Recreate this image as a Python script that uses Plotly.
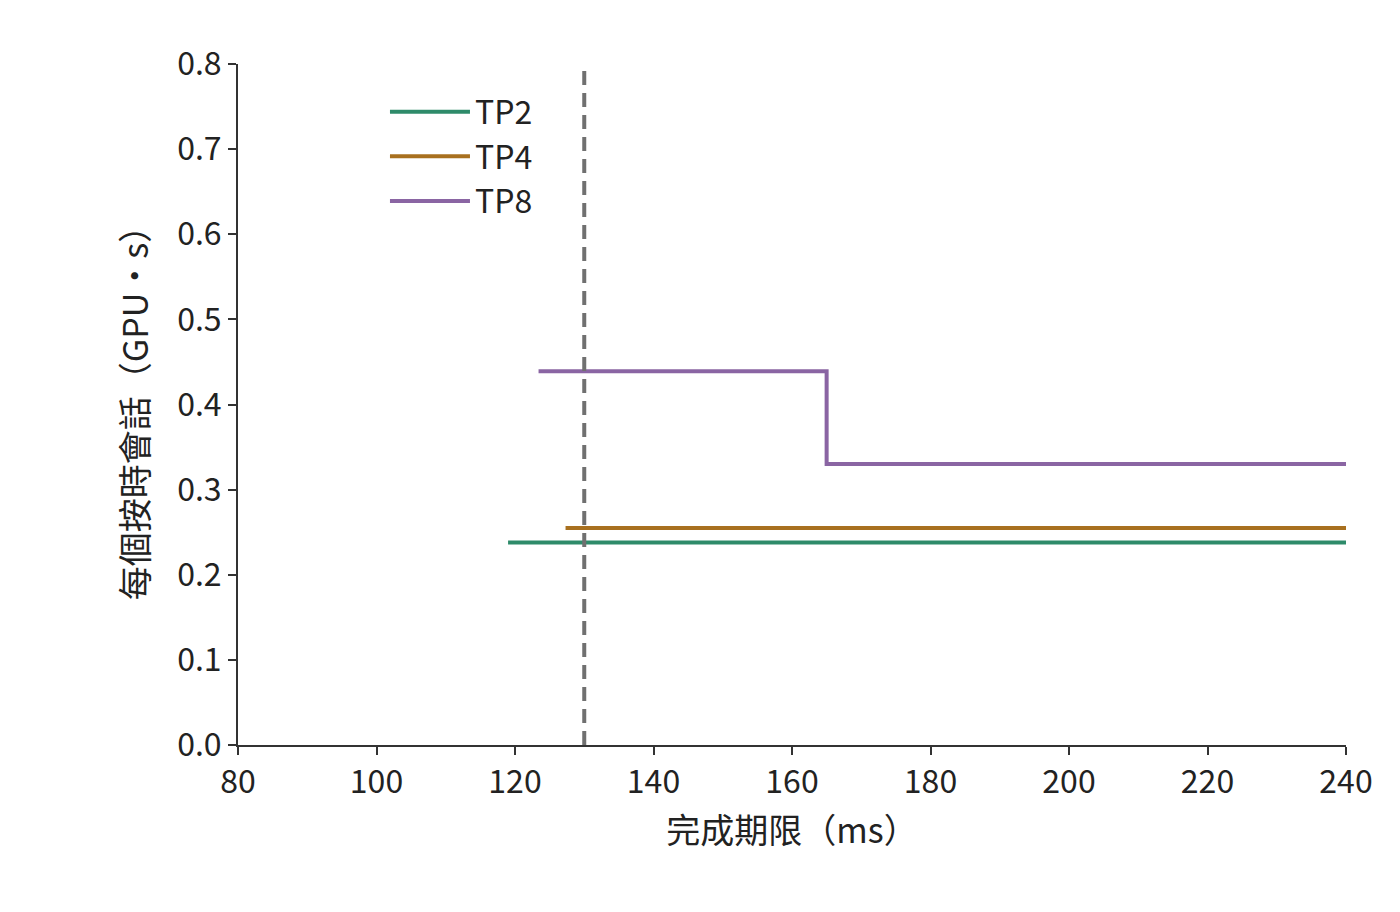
import plotly.graph_objects as go

tp2_x = [119, 240]; tp2_y = [0.238, 0.238]
tp4_x = [127.3, 240]; tp4_y = [0.255, 0.255]
tp8_x = [123.4, 165, 240]; tp8_y = [0.439, 0.33, 0.33]
deadline = 130

font = "Noto Sans CJK TC"
fig = go.Figure()
fig.add_trace(go.Scatter(x=tp2_x, y=tp2_y, mode="lines", name="TP2", line=dict(color="#2e8b6a", width=4, shape="hv")))
fig.add_trace(go.Scatter(x=tp4_x, y=tp4_y, mode="lines", name="TP4", line=dict(color="#a8701f", width=4, shape="hv")))
fig.add_trace(go.Scatter(x=tp8_x, y=tp8_y, mode="lines", name="TP8", line=dict(color="#8a65a3", width=4, shape="hv")))
fig.add_shape(type="line", x0=deadline, x1=deadline, y0=0, y1=0.8, xref="x", yref="y",
              line=dict(color="#707070", width=4, dash="14px,8px"))
ax = dict(showline=True, linecolor="#333", linewidth=2, ticks="outside", ticklen=8, tickwidth=2,
          tickcolor="#333", showgrid=False, zeroline=False, tickfont=dict(size=32, color="#222"))
fig.update_layout(
    width=1400, height=912, plot_bgcolor="white", paper_bgcolor="white",
    margin=dict(l=230, r=62, t=56, b=175),
    font=dict(family=font, size=32, color="#222"),
    xaxis=dict(range=[80, 240], dtick=20, title=dict(text="完成期限（ms）", font=dict(size=34), standoff=18), **ax),
    yaxis=dict(range=[0, 0.8], dtick=0.1, tickformat=".1f", title=dict(text="每個按時會話（GPU・s）", font=dict(size=34), standoff=18), **ax),
    legend=dict(orientation="h", x=0.355, xanchor="left", y=0.97, yanchor="top", font=dict(size=32),
                itemwidth=80, entrywidthmode="pixels", entrywidth=242, bgcolor="rgba(0,0,0,0)"),
)
fig.write_html("out.html")
